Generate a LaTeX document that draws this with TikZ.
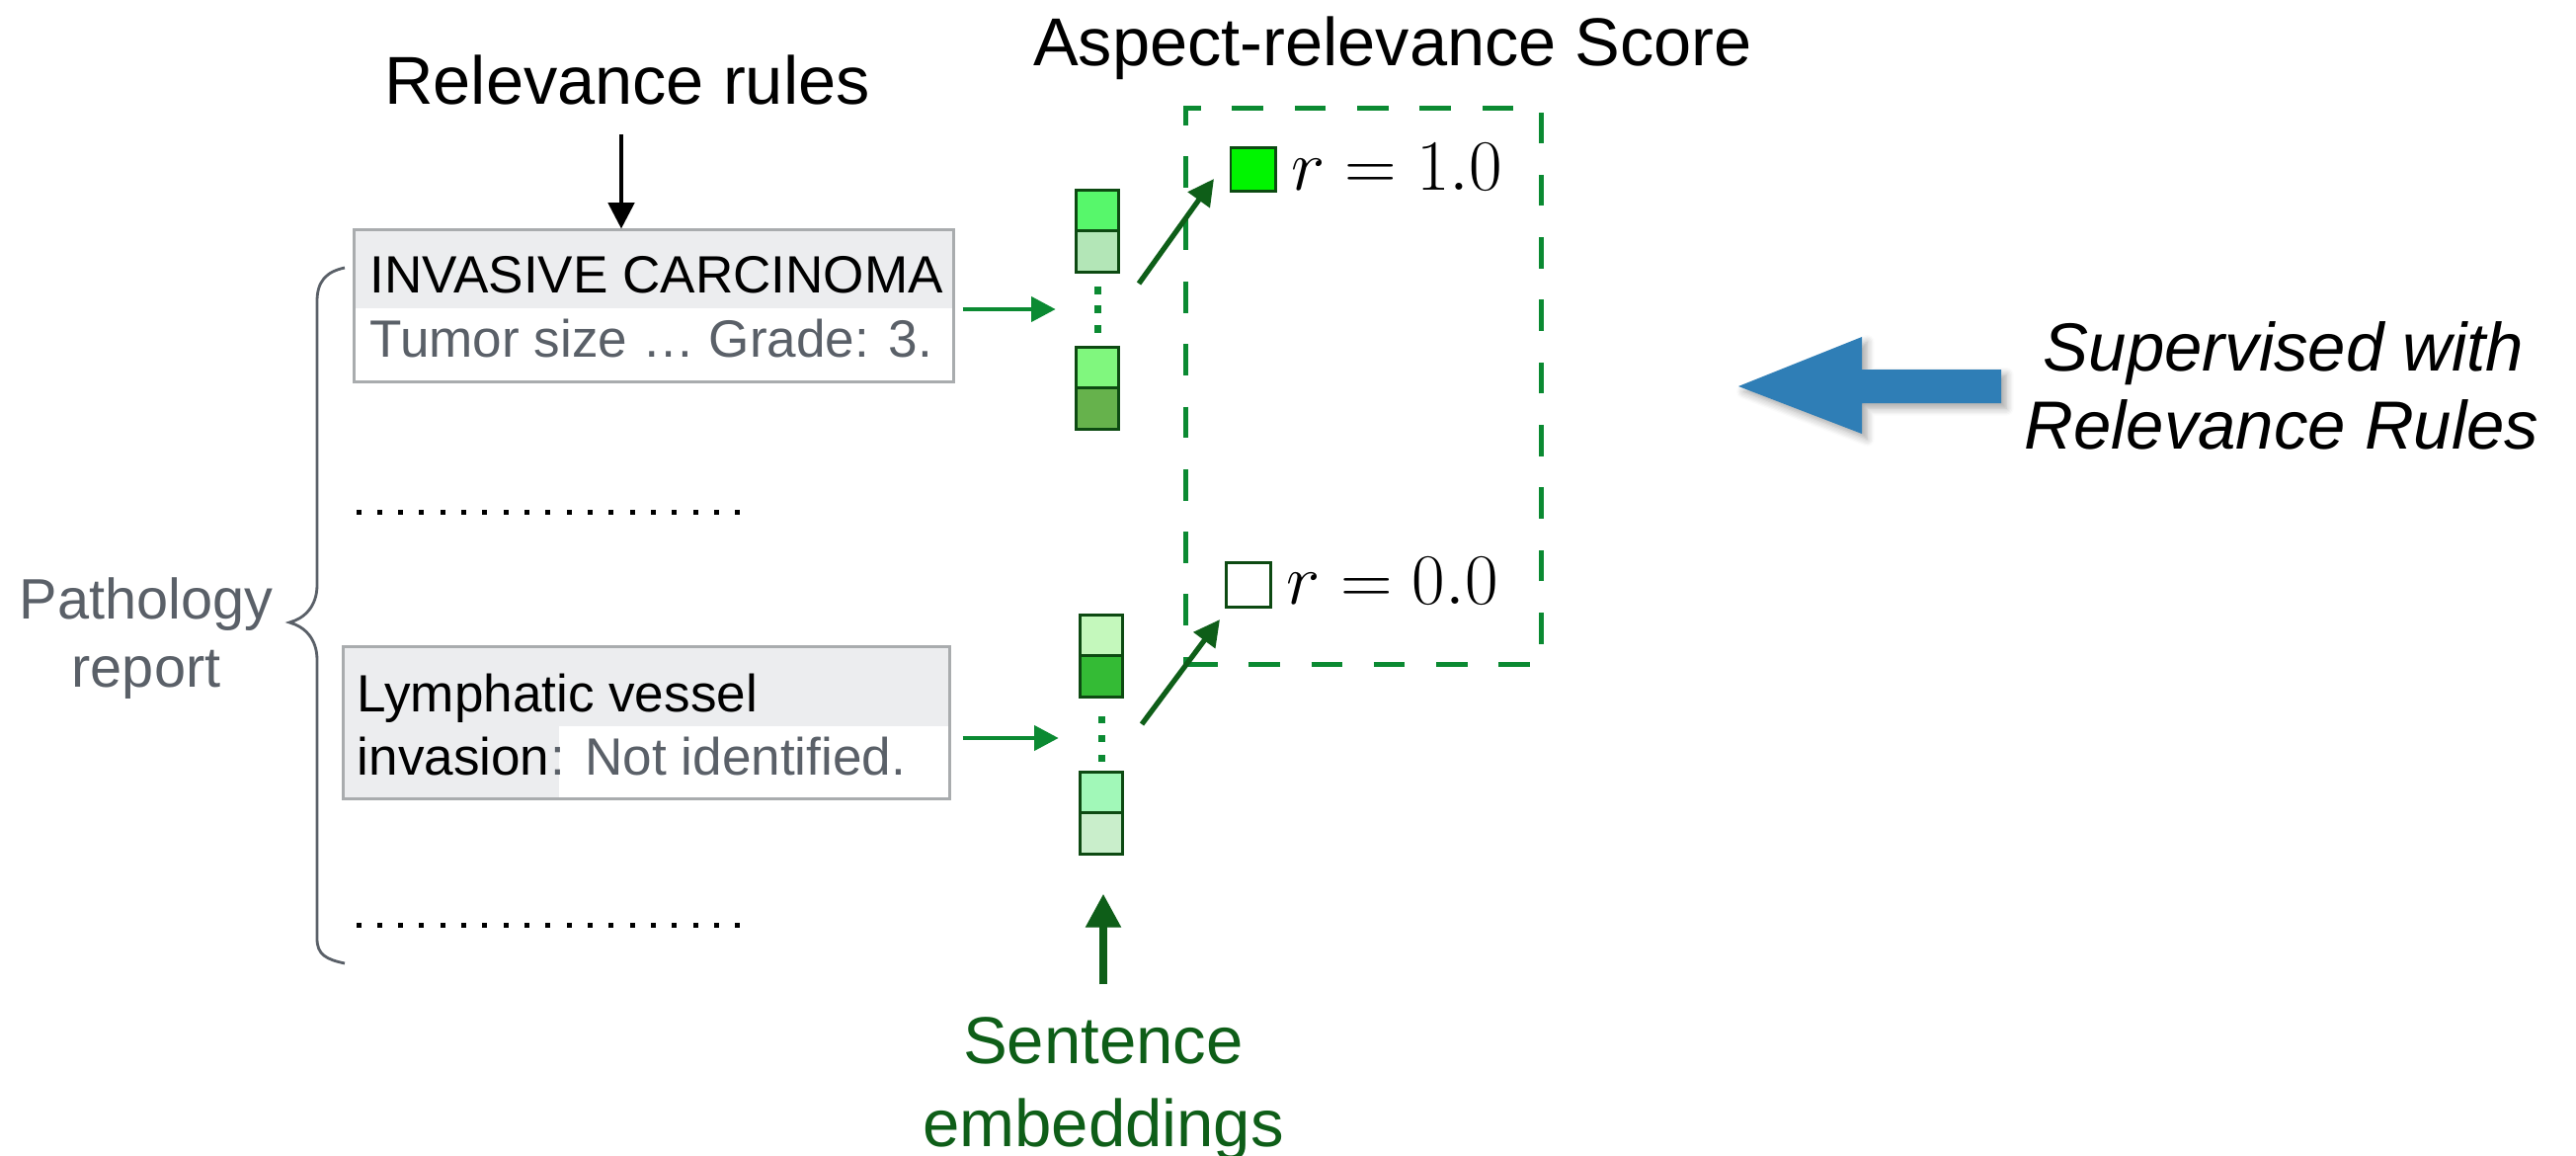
\documentclass[tikz,border=0pt]{standalone}
\usepackage[no-math]{fontspec}
\setmainfont{Liberation Sans}
\usetikzlibrary{arrows.meta,shadows.blur,calc}

\definecolor{boxfill}{HTML}{ECEDEF}
\definecolor{boxline}{HTML}{A9ACAE}
\definecolor{greytext}{HTML}{5A6068}
\definecolor{midgreen}{HTML}{0B8A32}
\definecolor{darkgreen}{HTML}{0E5E18}
\definecolor{cellline}{HTML}{0D4A12}
\definecolor{bluearrow}{HTML}{2F7EB6}
\definecolor{cA}{HTML}{57F76B}
\definecolor{cB}{HTML}{B3E6B7}
\definecolor{cC}{HTML}{80F77E}
\definecolor{cD}{HTML}{66B24C}
\definecolor{cE}{HTML}{C4F8BC}
\definecolor{cF}{HTML}{34BB35}
\definecolor{cG}{HTML}{A1F8B8}
\definecolor{cH}{HTML}{C9EECB}
\definecolor{cTop}{HTML}{00F500}

\tikzset{
  headtext/.style={inner sep=0pt, font=\fontsize{19.5pt}{23pt}\selectfont},
  bodytext/.style={inner sep=0pt, font=\fontsize{15.1pt}{18pt}\selectfont},
  pathlbl/.style={inner sep=0pt, text=greytext, font=\fontsize{16.4pt}{19pt}\selectfont},
  sidenote/.style={inner sep=0pt, font=\fontsize{19.6pt}{23pt}\selectfont\itshape},
  embtext/.style={inner sep=0pt, text=darkgreen, font=\fontsize{19.1pt}{23pt}\selectfont},
  mathlbl/.style={inner sep=0pt, font=\fontsize{21.5pt}{25pt}\selectfont},
  sentbox/.style={draw=boxline, line width=0.85pt, inner sep=0pt},
  cell/.style={draw=cellline, line width=0.85pt, inner sep=0pt,
               minimum width=0.43cm, minimum height=0.41cm},
  gdot/.style={fill=midgreen, inner sep=0pt, minimum size=0.07cm},
  scorebox/.style={draw=midgreen, line width=1.4pt, dash pattern=on 9pt off 9pt,
                   inner sep=0pt, minimum width=3.59cm, minimum height=5.62cm},
  garrow/.style={draw=midgreen, line width=1.4pt,
                 -{Triangle[length=7pt,width=7pt]}},
  darrow/.style={draw=darkgreen, line width=1.5pt,
                 -{Triangle[length=7.5pt,width=7.5pt]}},
  barrow/.style={draw=black, line width=1.1pt,
                 -{Triangle[length=7.5pt,width=7.5pt]}},
  sarrow/.style={draw=darkgreen, line width=2.3pt,
                 -{Triangle[length=9.7pt,width=9.7pt]}},
  brace/.style={draw=greytext, line width=0.8pt},
  dotrow/.style={fill=black}
}

\begin{document}
\begin{tikzpicture}[x=0.01cm, y=-0.01cm]
\useasboundingbox (0,0) rectangle (2608,1170);

% titles
\node[headtext, anchor=base] (asp) at (1410,67) {Aspect-relevance Score};
\node[headtext, anchor=base] (rr) at (635,106) {Relevance rules};

% shaded header parts of the sentence boxes
\fill[boxfill] (359,233) rectangle (965,312);
\fill[boxfill] (348,655) rectangle (961,735);
\fill[boxfill] (348,735) rectangle (566,808);

% first sentence box
\node[sentbox, minimum width=6.06cm, minimum height=1.53cm] (s1) at (662,309.5) {};
\node[bodytext, anchor=base west] (s1a) at (374,297) {INVASIVE CARCINOMA};
\node[bodytext, anchor=base west, text=greytext] (s1b) at (374,361) {Tumor size … Grade: 3.};

% second sentence box
\node[sentbox, minimum width=6.13cm, minimum height=1.53cm] (s2) at (654.5,731.5) {};
\node[bodytext, anchor=base west] (s2a) at (361,720) {Lymphatic vessel};
\node[bodytext, anchor=base west] (s2b) at (361,784) {invasion};
\node[bodytext, anchor=base west, text=greytext] (s2c) at (s2b.base east) {: Not identified.};

% elided sentences
\foreach \row in {518,936}{
  \foreach \i in {0,...,18}{
    \fill[dotrow] ({363+21.33*\i-2.5},{\row-2.5}) rectangle ++(5,5);
  }
}

% report brace and label
\draw[brace] (349,271) .. controls (330,275) and (321,285) .. (321,305)
  -- (321,592) .. controls (321,614) and (308,626) .. (293,630)
  .. controls (308,634) and (321,646) .. (321,668)
  -- (321,950) .. controls (321,966) and (330,971) .. (349,975);
\node[pathlbl, anchor=base] (pr1) at (148,626) {Pathology};
\node[pathlbl, anchor=base] (pr2) at (148,695) {report};

% embedding column 1
\node[cell, fill=cA] (c1a) at (1111,213.5) {};
\node[cell, fill=cB] (c1b) at (1111,254.5) {};
\node[gdot] (d1u) at (1111,294) {};
\node[gdot] (d1) at (1111,313) {};
\node[gdot] (d1l) at (1111,333) {};
\node[cell, fill=cC] (c1c) at (1111,372.5) {};
\node[cell, fill=cD] (c1d) at (1111,413.5) {};

% embedding column 2
\node[cell, fill=cE] (c2a) at (1115,643.5) {};
\node[cell, fill=cF] (c2b) at (1115,684.5) {};
\node[gdot] (d2u) at (1115,728) {};
\node[gdot] (d2) at (1115,747) {};
\node[gdot] (d2l) at (1115,767) {};
\node[cell, fill=cG] (c2c) at (1115,802.5) {};
\node[cell, fill=cH] (c2d) at (1115,843.5) {};

% sentence -> embedding
\draw[garrow, shorten <=0.08cm, shorten >=0.38cm] (s1.east |- d1) -- (d1);
\draw[garrow, shorten <=0.12cm, shorten >=0.39cm] (s2.east |- d2) -- (d2);

% score panel
\node[scorebox] (score) at (1380.5,391) {};
\node[cell, fill=cTop, minimum width=0.45cm, minimum height=0.43cm] (sq1) at (1268.5,171.5) {};
\node[cell, fill=white, minimum width=0.45cm, minimum height=0.44cm] (sq0) at (1264,592) {};
\node[mathlbl, anchor=base west] (l1) at ($(sq1.south east)+(14,-2)$) {$r = 1.0$};
\node[mathlbl, anchor=base west] (l0) at ($(sq0.south east)+(14,-4)$) {$r = 0.0$};

% embedding -> score
\coordinate (a1s) at (1153,287);
\coordinate (a1e) at (1229,181);
\coordinate (a2s) at (1156,733);
\coordinate (a2e) at (1235,627);
\draw[darrow] (a1s) -- (a1e);
\draw[darrow] (a2s) -- (a2e);

% relevance rules arrow
\coordinate (rrfoot) at (629,136);
\draw[barrow] (rrfoot) -- (rrfoot |- s1.north);

% sentence embeddings label
\node[embtext, anchor=base] (se1) at (1117,1076) {Sentence};
\node[embtext, anchor=base] (se2) at (1117,1160) {embeddings};
\draw[sarrow, shorten <=0.32cm, shorten >=0.39cm] (se1.north) -- (se1.north |- c2d.south);

% supervision arrow and note
\fill[bluearrow, blur shadow={shadow xshift=1.5pt, shadow yshift=-1.5pt, shadow blur steps=6, shadow opacity=35}]
  (1760,391) -- (1885,341) -- (1885,374) -- (2026,374) -- (2026,408)
  -- (1885,408) -- (1885,439) -- cycle;
\node[sidenote, anchor=base] (sup1) at (2312,376) {Supervised with};
\node[sidenote, anchor=base] (sup2) at (2310,454) {Relevance Rules};
\end{tikzpicture}
\end{document}
